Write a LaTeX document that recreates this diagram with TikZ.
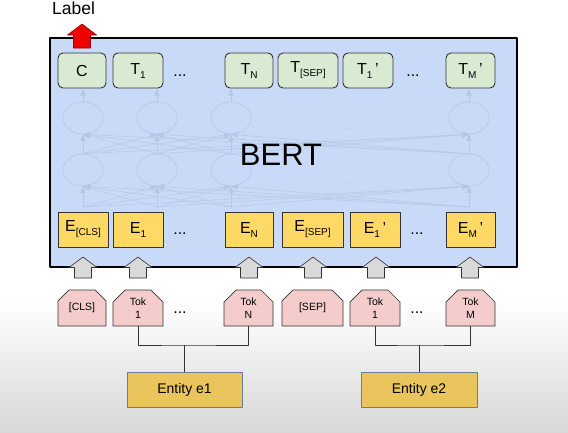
\documentclass[tikz,border=0pt]{standalone}
\usepackage{fontspec}
\setmainfont{Liberation Sans}
\usetikzlibrary{arrows, shapes.misc, shapes.geometric}

\definecolor{bertblue}{RGB}{201,218,248}
\definecolor{netline}{RGB}{183,198,226}
\definecolor{tgreen}{RGB}{217,234,211}
\definecolor{eyellow}{RGB}{255,217,102}
\definecolor{tokpink}{RGB}{244,204,204}
\definecolor{entgold}{RGB}{234,196,92}
\definecolor{entborder}{RGB}{105,125,155}
\definecolor{boxline}{RGB}{51,51,51}
\definecolor{arrowgray}{RGB}{217,217,217}
\definecolor{labelred}{RGB}{240,0,0}
\definecolor{floorgray}{RGB}{216,216,216}

\newcommand{\subidx}[1]{\raisebox{-4pt}{\fontsize{10}{12}\selectfont #1}}

\tikzset{
    grayarrow/.pic={
        \draw [draw=boxline, line width=0.6pt, fill=arrowgray]
            (-8.5,10.5)-- (-8.5,0)-- (-14,0)-- (0,-10.5)-- (14,0)-- (8.5,0)-- (8.5,10.5)-- cycle;
    },
    redarrow/.pic={
        \draw [draw=red!60!black, line width=0.6pt, fill=labelred]
            (-8.5,12)-- (-8.5,-1)-- (-14.5,-1)-- (0,-12)-- (14.5,-1)-- (8.5,-1)-- (8.5,12)-- cycle;
    }
}

\begin{document}
\begin{tikzpicture}[line cap=round,line join=round,>=triangle 45,x=1pt,y=-1pt,
    bertbox/.style={draw=black, line width=2.5pt, fill=bertblue, minimum width=467pt, minimum height=229pt, inner sep=0pt},
    tbox/.style={draw=boxline, line width=0.9pt, fill=tgreen, rounded corners=5pt, minimum height=35pt, inner sep=0pt, font=\fontsize{16}{18}\selectfont},
    ebox/.style={draw=boxline, line width=0.6pt, fill=eyellow, minimum height=35pt, inner sep=0pt, font=\fontsize{16}{18}\selectfont},
    tokbox/.style={draw=boxline, line width=0.7pt, fill=tokpink, chamfered rectangle, chamfered rectangle corners={north west, north east}, chamfered rectangle xsep=6pt, chamfered rectangle ysep=6pt, minimum height=36pt, inner sep=0pt, align=center, font=\fontsize{10.5}{12.5}\selectfont},
    entbox/.style={draw=entborder, line width=0.8pt, fill=entgold, minimum height=35pt, inner sep=0pt, font=\fontsize{14}{16}\selectfont},
    dots/.style={anchor=base, inner sep=0pt, font=\fontsize{16}{18}\selectfont},
    netnode/.style={ellipse, draw=netline, line width=0.6pt, minimum width=40pt, minimum height=32pt, inner sep=0pt},
    net/.style={draw=netline, line width=0.5pt},
    bracket/.style={draw=boxline, line width=0.8pt, line cap=butt}]
    \useasboundingbox (0,0) rectangle (568,432);
    % backdrop
    \fill [white] (0,0) rectangle (568,300);
    \shade [top color=white, bottom color=floorgray] (0,300) rectangle (568,432);
    % the BERT block
    \node [bertbox] (bert) at (283.5,152.5) {};
    % faint network behind
    \coordinate (nb1) at (83,207);
    \coordinate (nb2) at (157,207);
    \coordinate (nb3) at (231,207);
    \coordinate (nb4) at (469,207);
    \node [netnode] (nl1) at (83,170) {};
    \node [netnode] (nl2) at (157,170) {};
    \node [netnode] (nl3) at (231,170) {};
    \node [netnode] (nl4) at (469,170) {};
    \node [netnode] (nu1) at (83,118) {};
    \node [netnode] (nu2) at (157,118) {};
    \node [netnode] (nu3) at (231,118) {};
    \node [netnode] (nu4) at (469,118) {};
    \coordinate (nt1) at (83,89);
    \coordinate (nt2) at (157,89);
    \coordinate (nt3) at (231,89);
    \coordinate (nt4) at (469,89);
    \draw [net,->] (nb1)-- (nl1.south);
    \draw [net,->] (nb1)-- (nl2.south);
    \draw [net,->] (nb1)-- (nl3.south);
    \draw [net,->] (nb1)-- (nl4.south);
    \draw [net,->] (nb2)-- (nl1.south);
    \draw [net,->] (nb2)-- (nl2.south);
    \draw [net,->] (nb2)-- (nl3.south);
    \draw [net,->] (nb2)-- (nl4.south);
    \draw [net,->] (nb3)-- (nl1.south);
    \draw [net,->] (nb3)-- (nl2.south);
    \draw [net,->] (nb3)-- (nl3.south);
    \draw [net,->] (nb3)-- (nl4.south);
    \draw [net,->] (nb4)-- (nl1.south);
    \draw [net,->] (nb4)-- (nl2.south);
    \draw [net,->] (nb4)-- (nl3.south);
    \draw [net,->] (nb4)-- (nl4.south);
    \draw [net,->] (nl1.north)-- (nu1.south);
    \draw [net,->] (nl1.north)-- (nu2.south);
    \draw [net,->] (nl1.north)-- (nu3.south);
    \draw [net,->] (nl1.north)-- (nu4.south);
    \draw [net,->] (nl2.north)-- (nu1.south);
    \draw [net,->] (nl2.north)-- (nu2.south);
    \draw [net,->] (nl2.north)-- (nu3.south);
    \draw [net,->] (nl2.north)-- (nu4.south);
    \draw [net,->] (nl3.north)-- (nu1.south);
    \draw [net,->] (nl3.north)-- (nu2.south);
    \draw [net,->] (nl3.north)-- (nu3.south);
    \draw [net,->] (nl3.north)-- (nu4.south);
    \draw [net,->] (nl4.north)-- (nu1.south);
    \draw [net,->] (nl4.north)-- (nu2.south);
    \draw [net,->] (nl4.north)-- (nu3.south);
    \draw [net,->] (nl4.north)-- (nu4.south);
    \draw [net,->] (nu1.north)-- (nt1);
    \draw [net,->] (nu2.north)-- (nt2);
    \draw [net,->] (nu3.north)-- (nt3);
    \draw [net,->] (nu4.north)-- (nt4);
    \node [dots, text=netline, font=\fontsize{11}{12}\selectfont] (ndotsA) at (347,129) {...};
    \node [dots, text=netline, font=\fontsize{11}{12}\selectfont] (ndotsB) at (347,183) {...};
    \node [anchor=base, font=\fontsize{31}{34}\selectfont] (bertlbl) at (281,165) {BERT};
    % output row
    \node [tbox, minimum width=48pt] (c) at (82,70.5) {C};
    \node [tbox, minimum width=50pt] (t1) at (138,70.5) {T\subidx{1}};
    \node [dots] (tdotsA) at (180,76) {...};
    \node [tbox, minimum width=48pt] (tn) at (249,70.5) {T\subidx{N}};
    \node [tbox, minimum width=60pt] (tsep) at (308,70.5) {T\subidx{[SEP]}};
    \node [tbox, minimum width=50pt] (t1b) at (368,70.5) {T\subidx{1}\,'};
    \node [dots] (tdotsB) at (413,76) {...};
    \node [tbox, minimum width=49pt] (tm) at (470.5,70.5) {T\subidx{M}\,'};
    % embedding row
    \node [ebox, minimum width=50pt] (ecls) at (83,229.5) {E\subidx{[CLS]}};
    \node [ebox, minimum width=50pt] (e1) at (138,229.5) {E\subidx{1}};
    \node [dots] (edotsA) at (180,234) {...};
    \node [ebox, minimum width=48pt] (en) at (249,229.5) {E\subidx{N}};
    \node [ebox, minimum width=61pt] (esep) at (312.5,229.5) {E\subidx{[SEP]}};
    \node [ebox, minimum width=50pt] (e1b) at (375,229.5) {E\subidx{1}\,'};
    \node [dots] (edotsB) at (417,234) {...};
    \node [ebox, minimum width=49pt] (em) at (470.5,229.5) {E\subidx{M}\,'};
    % input arrows
    \pic (gcls) at (83,267.5) {grayarrow};
    \pic (ga) at (138,267.5) {grayarrow};
    \pic (gn) at (249,267.5) {grayarrow};
    \pic (gsep) at (313,267.5) {grayarrow};
    \pic (gb) at (376,267.5) {grayarrow};
    \pic (gm) at (470,267.5) {grayarrow};
    \pic (lblarrow) at (82,36) {redarrow};
    \node [anchor=base, font=\fontsize{17.5}{20}\selectfont] (lbl) at (73.5,14) {Label};
    % token row
    \node [tokbox, minimum width=48pt] (tokcls) at (82,308) {[CLS]};
    \node [tokbox, minimum width=50pt] (toka) at (138,308) {Tok\\1};
    \node [dots] (tokdotsA) at (180,313) {...};
    \node [tokbox, minimum width=49pt] (tokn) at (248.5,308) {Tok\\N};
    \node [tokbox, minimum width=61pt] (toksep) at (312.5,308) {[SEP]};
    \node [tokbox, minimum width=50pt] (tokb) at (375,308) {Tok\\1};
    \node [dots] (tokdotsB) at (417,313) {...};
    \node [tokbox, minimum width=49pt] (tokm) at (470.5,308) {Tok\\M};
    % entities
    \node [entbox, minimum width=115pt] (ent1) at (184.5,389.5) {Entity e1};
    \node [entbox, minimum width=116pt] (ent2) at (419,389.5) {Entity e2};
    \coordinate (j1) at (184.5,345);
    \coordinate (j2) at (419,345);
    \draw [bracket] (toka.south) |- (j1) -| (tokn.south);
    \draw [bracket] (j1)-- (ent1.north);
    \draw [bracket] (tokb.south) |- (j2) -| (tokm.south);
    \draw [bracket] (j2)-- (ent2.north);
\end{tikzpicture}
\end{document}
